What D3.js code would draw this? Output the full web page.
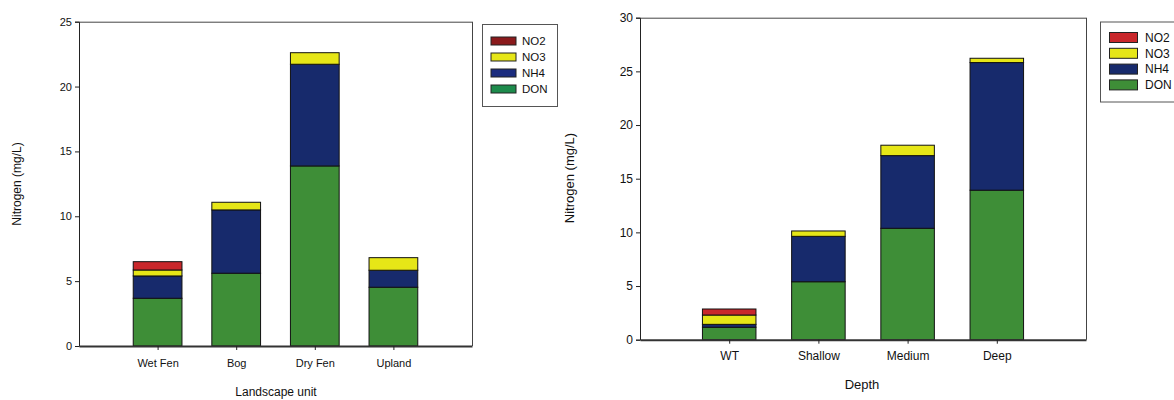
<!DOCTYPE html>
<html><head><meta charset="utf-8">
<script src="https://cdn.jsdelivr.net/npm/d3@7"></script>
<style>body{margin:0;background:#fff}text{font-family:"Liberation Sans",Arial,sans-serif;fill:#111}</style>
</head><body><svg id="c" width="1174" height="400"></svg>
<script>
const seriesKeys = ["DON","NH4","NO3","NO2"];
const legendOrder = ["NO2","NO3","NH4","DON"];

const leftCategories = ["Wet Fen","Bog","Dry Fen","Upland"];
const leftDON = [3.68, 5.61, 13.88, 4.53];
const leftNH4 = [1.72, 4.88, 7.84, 1.31];
const leftNO3 = [0.46, 0.59, 0.89, 0.97];
const leftNO2 = [0.64, 0, 0, 0];
const leftTicks = [0,5,10,15,20,25];

const rightCategories = ["WT","Shallow","Medium","Deep"];
const rightDON = [1.16, 5.40, 10.38, 13.93];
const rightNH4 = [0.27, 4.23, 6.77, 11.89];
const rightNO3 = [0.87, 0.50, 0.97, 0.40];
const rightNO2 = [0.56, 0, 0, 0];
const rightTicks = [0,5,10,15,20,25,30];

const barColors = {DON:"#3e8e37", NH4:"#172a6c", NO3:"#e6e617", NO2:"#c9272b"};
const leftLegendColors = {NO2:"#8a1a1c", NO3:"#e6e617", NH4:"#1b2c7e", DON:"#1d8b4c"};
const rightLegendColors = {NO2:"#c9272b", NO3:"#e6e617", NH4:"#172a6c", DON:"#3e8e37"};

const svg = d3.select("#c");

function drawChart(cfg){
  const g = svg.append("g");
  const rows = cfg.cats.map((c,i)=>({cat:c, DON:cfg.DON[i], NH4:cfg.NH4[i], NO3:cfg.NO3[i], NO2:cfg.NO2[i]}));
  const stacked = d3.stack().keys(seriesKeys)(rows);
  const y = d3.scaleLinear().domain([0, cfg.ymax]).range([cfg.y0, cfg.y1]);
  const xpos = d3.scalePoint().domain(["",...cfg.cats,"  "]).range([cfg.x0, cfg.x1]);
  const band = (cfg.x1-cfg.x0)/5;
  const bw = band*cfg.bwFrac;

  // box top/right
  g.append("line").attr("x1",cfg.x0).attr("x2",cfg.x1).attr("y1",cfg.y1+0.5).attr("y2",cfg.y1+0.5).attr("stroke","#444").attr("stroke-width",1);
  g.append("line").attr("x1",cfg.x1+0.5).attr("x2",cfg.x1+0.5).attr("y1",cfg.y1).attr("y2",cfg.y0).attr("stroke","#444").attr("stroke-width",1);

  stacked.forEach(s=>{
    g.append("g").selectAll("rect").data(s.filter(d=>d[1]-d[0]>0)).join("rect")
      .attr("x",d=>xpos(d.data.cat)-bw/2)
      .attr("width",bw)
      .attr("y",d=>y(d[1]))
      .attr("height",d=>y(d[0])-y(d[1]))
      .attr("fill",barColors[s.key])
      .attr("stroke","#111").attr("stroke-width",1);
  });

  // y axis
  const ya = g.append("g").attr("transform",`translate(${cfg.x0},0)`)
    .call(d3.axisLeft(y).tickValues(cfg.ticks).tickSize(cfg.tick).tickPadding(3).tickFormat(d3.format("d")));
  ya.select(".domain").attr("stroke","#222");
  ya.selectAll(".tick line").attr("stroke","#222");
  ya.selectAll("text").attr("font-size",cfg.fs).attr("fill","#111").attr("font-family","Liberation Sans, Arial, sans-serif");

  // x axis
  const xa = g.append("g").attr("transform",`translate(0,${cfg.y0})`)
    .call(d3.axisBottom(xpos).tickValues(cfg.cats).tickSize(cfg.tick).tickPadding(cfg.xpad).tickSizeOuter(0));
  xa.select(".domain").attr("stroke","#333").attr("stroke-width",2);
  xa.selectAll(".tick line").attr("stroke","#222");
  xa.selectAll("text").attr("font-size",cfg.fs).attr("fill","#111").attr("font-family","Liberation Sans, Arial, sans-serif");

  // titles
  g.append("text").attr("x",cfg.xTitleX).attr("y",cfg.xTitleY).attr("text-anchor","middle").attr("font-size",cfg.tfs).text(cfg.xTitle);
  g.append("text").attr("transform",`translate(${cfg.yTitleX},${cfg.yTitleY}) rotate(-90)`).attr("text-anchor","middle").attr("font-size",cfg.tfs).text("Nitrogen (mg/L)");

  // legend
  const L = cfg.legend;
  g.append("rect").attr("x",L.x+0.5).attr("y",L.y+0.5).attr("width",L.w).attr("height",L.h).attr("fill","#fff").attr("stroke","#555");
  legendOrder.forEach((k,i)=>{
    const cy = L.row0 + i*L.dy;
    g.append("rect").attr("x",L.sx).attr("y",cy-L.sh/2).attr("width",L.sw).attr("height",L.sh).attr("fill",cfg.legendColors[k]).attr("stroke","#222").attr("stroke-width",1);
    g.append("text").attr("x",L.tx).attr("y",cy).attr("dy","0.35em").attr("font-size",L.fs).text(k);
  });
}

drawChart({cats:leftCategories, DON:leftDON, NH4:leftNH4, NO3:leftNO3, NO2:leftNO2,
  ymax:25, ticks:leftTicks, x0:79, x1:472, y0:346, y1:21.7, bwFrac:0.62, tick:4, xpad:9, fs:11, tfs:12,
  xTitle:"Landscape unit", xTitleX:276, xTitleY:396, yTitleX:21, yTitleY:184,
  legendColors:leftLegendColors,
  legend:{x:482, y:24, w:75, h:82, sx:491, sw:25, sh:8, row0:41, dy:16, tx:522, fs:11.5}});

drawChart({cats:rightCategories, DON:rightDON, NH4:rightNH4, NO3:rightNO3, NO2:rightNO2,
  ymax:30, ticks:rightTicks, x0:640, x1:1086, y0:339.7, y1:17.7, bwFrac:0.6, tick:4, xpad:8, fs:12, tfs:13,
  xTitle:"Depth", xTitleX:862, xTitleY:389, yTitleX:574, yTitleY:178,
  legendColors:rightLegendColors,
  legend:{x:1100, y:21.5, w:90, h:80, sx:1109.5, sw:28, sh:10, row0:37.5, dy:15.8, tx:1145, fs:12}});
</script></body></html>
